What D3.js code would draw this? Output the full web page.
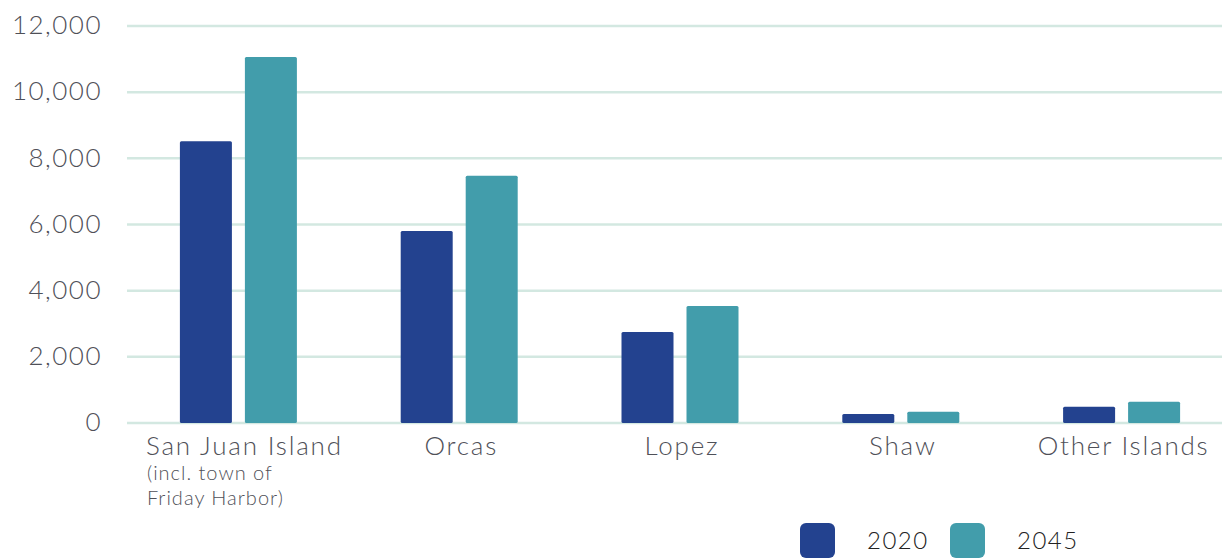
<!DOCTYPE html>
<html><head><meta charset="utf-8">
<script src="https://cdn.jsdelivr.net/npm/d3@7"></script>
<style>body{margin:0;background:#fff;} svg{display:block;font-family:Lato, "Open Sans", sans-serif;font-weight:300;}</style>
</head><body>
<svg id="c" width="1222" height="558"></svg>
<script>
const categories = ["San Juan Island", "Orcas", "Lopez", "Shaw", "Other Islands"];
const subLabels = [["(incl. town of", "Friday Harbor)"], [], [], [], []];
const seriesNames = ["2020", "2045"];
const values2020 = [8520, 5800, 2750, 270, 490];
const values2045 = [11060, 7470, 3540, 340, 640];
const yTicks = [0, 2000, 4000, 6000, 8000, 10000, 12000];
const colors = ["#23428f", "#429dab"];
const textColor = "#4f5058";

const svg = d3.select("#c");
const y = d3.scaleLinear().domain([0, 12000]).range([423, 26]);
const x0 = d3.scaleBand().domain(categories).range([128, 1232]).padding(0);
const groupW = 117;
const x1 = d3.scaleBand().domain(seriesNames).range([0, groupW]).paddingInner(0.2);

// gridlines
svg.append("g").selectAll("line").data(yTicks).join("line")
  .attr("x1", 127).attr("x2", 1222)
  .attr("y1", d => y(d)).attr("y2", d => y(d))
  .attr("stroke", "#d3e8e1").attr("stroke-width", 2.5);

// y axis labels
const yAxis = d3.axisLeft(y).tickValues(yTicks).tickFormat(d3.format(",")).tickSize(0).tickPadding(0);
const ga = svg.append("g").attr("transform", "translate(102,0)").call(yAxis);
ga.select(".domain").remove();
ga.selectAll("text").attr("font-size", 26).attr("fill", textColor).attr("font-family", "Lato, sans-serif")
  .attr("letter-spacing", 1.5).attr("dy", "0.3em");

// bars
const data = categories.map((c, i) => ({cat: c, vals: [values2020[i], values2045[i]]}));
const groups = svg.append("g").selectAll("g").data(data).join("g")
  .attr("transform", d => `translate(${x0(d.cat) + (x0.bandwidth() - groupW) / 2},0)`);
groups.selectAll("rect").data(d => d.vals.map((v, j) => ({s: seriesNames[j], v, j}))).join("rect")
  .attr("x", d => x1(d.s)).attr("width", x1.bandwidth())
  .attr("y", d => y(d.v)).attr("height", d => y(0) - y(d.v))
  .attr("rx", 1.5)
  .attr("fill", d => colors[d.j]);

// category labels
const lab = svg.append("g");
categories.forEach((c, i) => {
  const cx = x0(c) + x0.bandwidth() / 2 + (i === 0 ? 6 : 2);
  const t = lab.append("text").attr("x", cx).attr("y", 455).attr("text-anchor", "middle")
    .attr("font-size", 26).attr("letter-spacing", 1.8).attr("fill", textColor).text(c);
  if (subLabels[i].length) {
    const left = t.node().getBBox().x + 1;
    subLabels[i].forEach((s, k) => {
      lab.append("text").attr("x", left).attr("y", 480 + k * 25)
        .attr("font-size", 20).attr("letter-spacing", 1).attr("fill", textColor).text(s);
    });
  }
});

// legend
const legX = [800, 950];
const leg = svg.append("g");
seriesNames.forEach((s, j) => {
  leg.append("rect").attr("x", legX[j]).attr("y", 523).attr("width", 35).attr("height", 35)
    .attr("rx", 6).attr("fill", colors[j]);
  leg.append("text").attr("x", legX[j] + 67).attr("y", 549).attr("font-size", 24)
    .attr("letter-spacing", 1.5).attr("fill", "#222").text(s);
});
</script>
</body></html>
